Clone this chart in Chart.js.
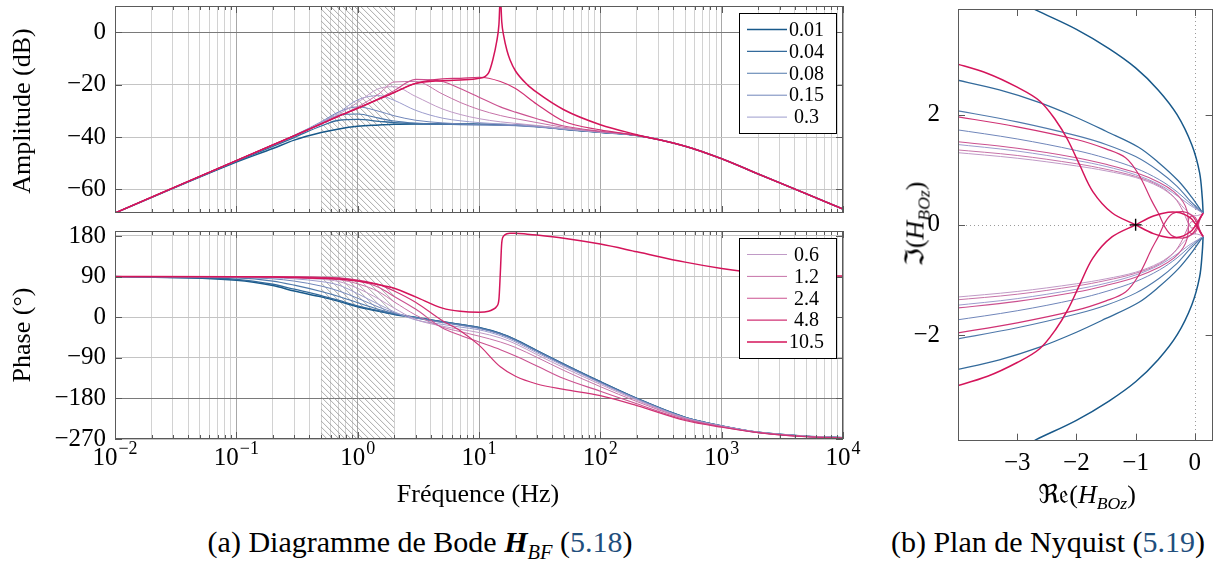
<!DOCTYPE html>
<html>
<head>
<meta charset="utf-8">
<script src="https://cdn.jsdelivr.net/npm/chart.js@4.4.0/dist/chart.umd.min.js"></script>
<style>
  html, body { margin: 0; padding: 0; background: #fff; overflow: hidden; }
  body { width: 1214px; height: 563px; position: relative; font-family: 'Liberation Serif', 'DejaVu Serif', serif; color: #000; }
  .box { position: absolute; }
  .lbl { position: absolute; font-size: 26px; white-space: nowrap; transform: translate(-50%, -50%); }
  .rot { transform: translate(-50%, -50%) rotate(-90deg); }
  .cap { position: absolute; font-size: 30px; white-space: nowrap; transform: translate(-50%, -50%); }
  .ref { color: #1f4f7d; }
  .sym { font-family: 'DejaVu Serif', 'DejaVu Sans', serif; }
  sub { font-size: 68%; vertical-align: -0.35em; line-height: 0; }
</style>
</head>
<body>
<div class="box" style="left:0;top:0;width:846px;height:216px"><canvas id="amp"></canvas></div>
<div class="box" style="left:0;top:225px;width:870px;height:255px"><canvas id="phase"></canvas></div>
<div class="box" style="left:880px;top:0;width:340px;height:480px"><canvas id="nyq"></canvas></div>

<div class="lbl rot" style="left:22px;top:111px">Amplitude (dB)</div>
<div class="lbl rot" style="left:22px;top:335px">Phase (°)</div>
<div class="lbl" style="left:478px;top:494px">Fréquence (Hz)</div>
<div class="lbl rot" style="left:915px;top:224px"><span class="sym">ℑ</span>(<i>H</i><sub><i>BOz</i></sub>)</div>
<div class="lbl" style="left:1087px;top:494px"><span class="sym">ℜ𝔢</span>(<i>H</i><sub><i>BOz</i></sub>)</div>
<div class="cap" style="left:420px;top:542px">(a) Diagramme de Bode <b><i>H</i></b><sub><i>BF</i></sub> (<span class="ref">5.18</span>)</div>
<div class="cap" style="left:1048px;top:542px">(b) Plan de Nyquist (<span class="ref">5.19</span>)</div>

<script>
// gains (legend)
const gains = ['0.01', '0.04', '0.08', '0.15', '0.3', '0.6', '1.2', '2.4', '4.8', '10.5'];
const colors = ['#18598a', '#336a9b', '#5079ab', '#7086ba', '#9c9ccd', '#c09ac6', '#c673a8', '#cb5290', '#d03274', '#d4145a'];
const widths = [1.5, 1.3, 1.1, 1, 1, 1, 1, 1.1, 1.2, 1.5];

// frequencies (Hz)
const freq = [0.01, 0.1, 0.2, 0.3, 0.5, 0.7, 1, 1.5, 2, 3, 5, 7, 10, 15, 20, 30, 50, 100, 200, 500, 1000, 2000, 5000, 10000];
const freqRes = [0.01, 0.1, 0.2, 0.3, 0.5, 0.7, 1, 1.5, 2, 3, 5, 7, 10, 12, 13, 14, 14.6, 15, 15.4, 16, 17, 18, 20, 25, 30, 50, 100, 200, 500, 1000, 2000, 5000, 10000];

// amplitude (dB)
const amp001 = [-69, -49.6, -44.4, -41.2, -38.3, -36.9, -35.9, -35.4, -35.1, -35, -35, -35, -35.1, -35.2, -35.4, -35.9, -37, -38.2, -39.4, -43.5, -48.3, -54.1, -61.7, -67.5];
const amp004 = [-69, -49.3, -43.6, -40.2, -35.8, -33.6, -33.3, -34, -34.5, -34.9, -35.1, -35.2, -35.2, -35.3, -35.5, -36, -37, -38.2, -39.4, -43.5, -48.3, -54.1, -61.7, -67.5];
const amp008 = [-69, -49.1, -43.2, -39.6, -34.6, -31.7, -31.2, -32.8, -33.9, -34.7, -35.1, -35.3, -35.4, -35.5, -35.6, -36.1, -37, -38.2, -39.4, -43.5, -48.3, -54.1, -61.7, -67.5];
const amp015 = [-69, -49, -43, -39.4, -34.2, -30.4, -28.5, -30.2, -31.9, -33.6, -34.6, -35, -35.3, -35.5, -35.7, -36.2, -37.1, -38.2, -39.4, -43.5, -48.3, -54.1, -61.7, -67.5];
const amp03 = [-69, -49, -43, -39.4, -34.3, -30.6, -25.8, -24.2, -26, -29.8, -32.8, -33.8, -34.5, -35, -35.3, -35.9, -36.9, -38.1, -39.4, -43.5, -48.3, -54.1, -61.7, -67.5];
const amp06 = [-69, -49, -43, -39.5, -34.6, -31.3, -26.8, -21.5, -20.8, -24.5, -29.3, -31.4, -33, -34.2, -34.8, -35.6, -36.8, -38.1, -39.3, -43.5, -48.3, -54.1, -61.7, -67.5];
const amp12 = [-69, -49, -43, -39.5, -35, -32, -28.5, -23.5, -19, -18.8, -23.6, -26.8, -29.5, -31.8, -33, -34.5, -36.3, -38, -39.3, -43.5, -48.3, -54.1, -61.7, -67.5];
const amp24 = [-69, -49, -43, -39.5, -35, -32, -29, -25.3, -22.3, -18, -18.8, -21.5, -24.8, -28.5, -30.5, -33, -35.8, -37.8, -39.3, -43.5, -48.3, -54.1, -61.7, -67.5];
const amp48 = [-69, -49, -43, -39.5, -35, -32, -29, -25.5, -23, -19.5, -17.8, -17.6, -17.2, -18.8, -21.5, -27.5, -34, -37.3, -39.4, -43.5, -48.3, -54.1, -61.7, -67.5];
const amp105 = [-69, -49, -43, -39.5, -35, -32, -29, -25.5, -23, -19.6, -18.5, -18.2, -17.6, -15.5, -10.5, -3.5, 3, 14, 4, -1.5, -7, -10.5, -14.8, -20, -23, -29.6, -35.3, -39.1, -43.5, -48.3, -54.1, -61.7, -67.5];

// phase (deg)
const ph001 = [90, 82, 70, 58, 45, 35, 23, 13, 6, -1, -10, -16, -23, -36, -50, -74, -104, -143, -180, -222, -241, -255, -264, -267];
const ph004 = [90, 84, 73, 62, 48, 37, 25, 14, 7, 0, -10, -16, -23, -36, -50, -74, -104, -143, -180, -222, -241, -255, -264, -267];
const ph008 = [90, 87, 80, 71, 57, 46, 32, 17, 8, -1, -11, -17, -24, -37, -51, -75, -105, -144, -180, -222, -241, -255, -264, -267];
const ph015 = [90, 88, 85, 80, 69, 58, 42, 22, 10, -2, -12, -18, -25, -38, -52, -76, -106, -145, -181, -223, -241, -255, -264, -267];
const ph03 = [90, 89, 87, 85, 79, 71, 52, 28, 12, -6, -16, -22, -28, -41, -55, -79, -108, -146, -182, -223, -241, -255, -264, -267];
const ph06 = [90, 89.5, 88.5, 87, 84, 79, 64, 40, 20, -5, -20, -27, -34, -46, -59, -83, -112, -149, -184, -224, -242, -255, -264, -267];
const ph12 = [90, 90, 89, 88.5, 86, 83, 74, 56, 34, 5, -22, -32, -42, -55, -67, -89, -118, -154, -187, -225, -242, -255, -264, -267];
const ph24 = [90, 90, 89.5, 89, 88, 86, 80, 66, 46, 18, -24, -40, -55, -72, -86, -108, -136, -164, -192, -227, -243, -256, -265, -268];
const ph48 = [90, 90, 90, 89.5, 88.5, 87, 82, 72, 58, 33, -8, -30, -62, -110, -131, -148, -160, -174, -196, -229, -244, -256, -265, -268];
const ph105 = [90, 89.8, 89, 88, 86.5, 84.5, 80, 72, 64, 45, 20, 13, 11, 13, 17, 24, 40, 100, 165, 180, 185, 186, 186, 184, 182, 175, 162, 145, 122, 108, 98, 93, 91];

// Nyquist, upper branch (the lower one is its mirror)
const re001 = [-2.85, -2.68, -2.0, -1.45, -1.0, -0.62, -0.3, -0.05, 0.08, 0.125, 0.14];
const im001 = [4.0, 3.9, 3.55, 3.2, 2.85, 2.45, 2.0, 1.45, 0.95, 0.5, 0.21];
const re004 = [-4.1, -3.3, -2.62, -2.0, -1.5, -0.95, -0.6, -0.28, -0.05, 0.08, 0.14];
const im004 = [2.65, 2.45, 2.22, 1.95, 1.7, 1.41, 1.12, 0.8, 0.5, 0.3, 0.21];
const re008 = [-4.1, -3, -2, -1.5, -1, -0.6, -0.3, -0.1, 0.05, 0.14];
const im008 = [2.09, 1.87, 1.62, 1.46, 1.24, 0.97, 0.7, 0.46, 0.3, 0.21];
const re015 = [-4.1, -3, -2, -1.5, -1, -0.6, -0.3, -0.1, 0.05, 0.14];
const im015 = [1.74, 1.56, 1.35, 1.21, 1.03, 0.82, 0.6, 0.41, 0.28, 0.21];
const re03 = [-4.1, -3, -2, -1.5, -1, -0.6, -0.3, -0.1, 0.05, 0.14];
const im03 = [1.47, 1.34, 1.17, 1.06, 0.91, 0.73, 0.53, 0.37, 0.27, 0.21];
const re06 = [-4.1, -3, -2, -1.5, -1, -0.6, -0.35, -0.18, -0.05, 0.05, 0.14];
const im06 = [1.32, 1.21, 1.07, 0.98, 0.86, 0.69, 0.5, 0.3, 0.18, 0.17, 0.21];
const re12 = [-4.1, -3, -2, -1.5, -1, -0.6, -0.35, -0.2, -0.12, -0.05, 0.04, 0.14];
const im12 = [1.37, 1.26, 1.11, 1.01, 0.88, 0.71, 0.5, 0.25, 0.05, -0.06, 0.02, 0.21];
const re24 = [-4.1, -3, -2, -1.5, -1, -0.6, -0.35, -0.2, -0.13, -0.11, -0.1, -0.03, 0.04, 0.08, 0.14];
const im24 = [1.52, 1.39, 1.22, 1.1, 0.95, 0.77, 0.6, 0.42, 0.25, 0.05, -0.12, -0.16, -0.08, 0.08, 0.21];
const re48 = [-4.1, -3, -2, -1.5, -1.17, -0.95, -0.73, -0.61, -0.5, -0.38, -0.2, -0.05, 0.03, 0.08, 0.14];
const im48 = [1.98, 1.78, 1.55, 1.38, 1.22, 0.92, 0.44, 0.2, -0.05, -0.2, -0.24, -0.17, -0.05, 0.1, 0.21];
const re105 = [-4.1, -3.5, -3.0, -2.62, -2.35, -2.15, -1.95, -1.72, -1.4, -1.0, -0.7, -0.45, -0.25, -0.08, 0.01, 0.06, 0.1, 0.14];
const im105 = [2.95, 2.75, 2.5, 2.25, 1.9, 1.55, 1.1, 0.6, 0.22, 0, -0.16, -0.23, -0.22, -0.13, -0.02, 0.07, 0.15, 0.21];
const critical = [{ x: -1, y: 0 }];

// axis ticks
const ampTicks = [-60, -40, -20, 0];
const phaseTicks = [-270, -180, -90, 0, 90, 180];
const decades = [-2, -1, 0, 1, 2, 3, 4];
const nyqXTicks = [-3, -2, -1, 0];
const nyqYTicks = [-2, 0, 2];
const band = [0.5, 2];

const ampAll = [amp001, amp004, amp008, amp015, amp03, amp06, amp12, amp24, amp48, amp105];
const phAll = [ph001, ph004, ph008, ph015, ph03, ph06, ph12, ph24, ph48, ph105];
const reAll = [re001, re004, re008, re015, re03, re06, re12, re24, re48, re105];
const imAll = [im001, im004, im008, im015, im03, im06, im12, im24, im48, im105];

Chart.defaults.font.family = "'Liberation Serif', 'DejaVu Serif', serif";
Chart.defaults.font.size = 25;
Chart.defaults.color = '#000';

const minus = v => (v < 0 ? '\u2212' + Math.abs(v) : String(v));
const isDecade = v => Math.abs(Math.log10(v) - Math.round(Math.log10(v))) < 1e-9;

// every 1..9 x 10^n tick of the log axis
const logTicks = [];
for (let d = decades[0]; d < decades[decades.length - 1]; d++) {
    for (let k = 1; k <= 9; k++) logTicks.push(+(k * Math.pow(10, d)).toPrecision(3));
}
logTicks.push(Math.pow(10, decades[decades.length - 1]));

function bodeSets(values) {
    return gains.map((g, i) => ({
        label: g,
        data: (i === 9 ? freqRes : freq).map((f, k) => ({ x: f, y: values[i][k] })),
        borderColor: colors[i],
        borderWidth: widths[i],
        pointRadius: 0,
        fill: false,
        cubicInterpolationMode: 'monotone',
        order: 9 - i
    }));
}

function nyqSets() {
    return gains.map((g, i) => {
        const re = reAll[i], im = imAll[i];
        const up = re.map((r, k) => ({ x: r, y: im[k] }));
        const down = re.map((r, k) => ({ x: r, y: -im[k] }));
        return {
            label: g,
            data: up.concat([{ x: re[re.length - 1], y: null }], down),
            borderColor: colors[i],
            borderWidth: widths[i],
            pointRadius: 0,
            showLine: true,
            tension: 0.35,
            order: 9 - i
        };
    });
}

// hatched band 0.5 - 2 Hz
const hatch = {
    id: 'hatch',
    beforeDatasetsDraw(chart) {
        const { ctx, chartArea: a, scales: { x } } = chart;
        const x0 = x.getPixelForValue(band[0]), x1 = x.getPixelForValue(band[1]);
        const h = a.bottom - a.top;
        ctx.save();
        ctx.beginPath();
        ctx.rect(x0, a.top, x1 - x0, h);
        ctx.clip();
        ctx.beginPath();
        ctx.strokeStyle = '#8c8c8c';
        ctx.lineWidth = 0.75;
        for (let s = x0 - h; s < x1 + 6; s += 6) {
            ctx.moveTo(s, a.top);
            ctx.lineTo(s + h, a.bottom);
        }
        ctx.stroke();
        ctx.restore();
    }
};

// frame + inward ticks
const frame = {
    id: 'frame',
    afterDatasetsDraw(chart, args, opts) {
        const { ctx, chartArea: a, scales: { x, y } } = chart;
        ctx.save();
        ctx.strokeStyle = '#5a5a5a';
        ctx.lineWidth = 1;
        ctx.beginPath();
        x.ticks.forEach(t => {
            const px = Math.round(x.getPixelForValue(t.value)) + 0.5;
            const len = opts.logX && !isDecade(t.value) ? 4 : 7;
            ctx.moveTo(px, a.top); ctx.lineTo(px, a.top + len);
            ctx.moveTo(px, a.bottom); ctx.lineTo(px, a.bottom - len);
        });
        y.ticks.forEach(t => {
            const py = Math.round(y.getPixelForValue(t.value)) + 0.5;
            ctx.moveTo(a.left, py); ctx.lineTo(a.left + 7, py);
            ctx.moveTo(a.right, py); ctx.lineTo(a.right - 7, py);
        });
        ctx.stroke();
        ctx.strokeRect(Math.round(a.left) + 0.5, Math.round(a.top) + 0.5,
            Math.round(a.right - a.left) - 1, Math.round(a.bottom - a.top) - 1);
        ctx.restore();
    }
};

// boxed legend inside the plot
const boxLegend = {
    id: 'boxLegend',
    afterDatasetsDraw(chart, args, opts) {
        if (!opts.items) return;
        const { ctx } = chart;
        const b = opts.box;
        ctx.save();
        ctx.fillStyle = '#fff';
        ctx.fillRect(b.x, b.y, b.w, b.h);
        ctx.strokeStyle = '#000';
        ctx.lineWidth = 1;
        ctx.strokeRect(b.x + 0.5, b.y + 0.5, b.w, b.h);
        ctx.font = "20px 'Liberation Serif', serif";
        ctx.textAlign = 'center';
        ctx.textBaseline = 'middle';
        opts.items.forEach((i, k) => {
            const yy = b.y + 16.5 + k * 21.9;
            ctx.beginPath();
            ctx.strokeStyle = colors[i];
            ctx.lineWidth = widths[i];
            ctx.moveTo(b.x + 8, yy);
            ctx.lineTo(b.x + 48, yy);
            ctx.stroke();
            ctx.fillStyle = '#000';
            ctx.fillText(gains[i], b.x + 67.5, yy + 1);
        });
        ctx.restore();
    }
};

// 10^n labels under the phase plot
const decadeLabels = {
    id: 'decadeLabels',
    afterDraw(chart) {
        const { ctx, chartArea: a, scales: { x } } = chart;
        ctx.save();
        ctx.fillStyle = '#000';
        ctx.textBaseline = 'alphabetic';
        ctx.textAlign = 'left';
        decades.forEach(d => {
            const px = x.getPixelForValue(Math.pow(10, d));
            const e = minus(d);
            ctx.font = "25px 'Liberation Serif', serif";
            const w1 = ctx.measureText('10').width;
            ctx.font = "18px 'Liberation Serif', serif";
            const w2 = ctx.measureText(e).width;
            const x0 = px - (w1 + w2 + 1) / 2;
            ctx.font = "25px 'Liberation Serif', serif";
            ctx.fillText('10', x0, a.bottom + 26);
            ctx.font = "18px 'Liberation Serif', serif";
            ctx.fillText(e, x0 + w1 + 1, a.bottom + 15);
        });
        ctx.restore();
    }
};

// dotted axes through 0 in the Nyquist plane
const zeroLines = {
    id: 'zeroLines',
    beforeDatasetsDraw(chart) {
        const { ctx, chartArea: a, scales: { x, y } } = chart;
        const px = Math.round(x.getPixelForValue(0)) + 0.5;
        const py = Math.round(y.getPixelForValue(0)) + 0.5;
        ctx.save();
        ctx.strokeStyle = '#9a9a9a';
        ctx.lineWidth = 1;
        ctx.setLineDash([1, 3]);
        ctx.beginPath();
        ctx.moveTo(px, a.top); ctx.lineTo(px, a.bottom);
        ctx.moveTo(a.left, py); ctx.lineTo(a.right, py);
        ctx.stroke();
        ctx.restore();
    }
};

function fixBox(w, h) {
    return s => {
        if (w !== null) s.width = w;
        if (h !== null) s.height = h;
        s.paddingTop = 0; s.paddingBottom = 0; s.paddingLeft = 0; s.paddingRight = 0;
    };
}

function bodeOptions(yMin, yMax, yTicks, darkTick, xHeight, padRight, legendItems) {
    return {
        responsive: true,
        maintainAspectRatio: false,
        animation: false,
        layout: { padding: { top: 6, right: padRight, bottom: 0, left: 0 } },
        scales: {
            x: {
                type: 'logarithmic',
                min: 0.01,
                max: 10000,
                afterBuildTicks: s => { s.ticks = logTicks.map(v => ({ value: v })); },
                afterFit: fixBox(null, xHeight),
                ticks: { display: false },
                border: { display: false },
                grid: {
                    drawTicks: false,
                    color: c => (c.tick && isDecade(c.tick.value) ? '#a8a8a8' : '#d2d2d2'),
                    lineWidth: 1
                }
            },
            y: {
                min: yMin,
                max: yMax,
                afterBuildTicks: s => { s.ticks = yTicks.map(v => ({ value: v })); },
                afterFit: fixBox(115, null),
                border: { display: false },
                ticks: { callback: v => minus(v), padding: 9 },
                grid: {
                    drawTicks: false,
                    color: c => (c.tick && c.tick.value === darkTick ? '#7a7a7a' : '#c4c4c4'),
                    lineWidth: 1
                }
            }
        },
        plugins: {
            legend: { display: false },
            tooltip: { enabled: false },
            frame: { logX: true },
            boxLegend: { items: legendItems, box: { x: 739, y: 13, w: 97, h: 120 } }
        }
    };
}

new Chart(document.getElementById('amp'), {
    type: 'line',
    data: { datasets: bodeSets(ampAll) },
    options: bodeOptions(-69, 10, ampTicks, 0, 3, 3, [0, 1, 2, 3, 4]),
    plugins: [hatch, frame, boxLegend]
});

new Chart(document.getElementById('phase'), {
    type: 'line',
    data: { datasets: bodeSets(phAll) },
    options: bodeOptions(-270, 191, phaseTicks, -180, 41, 27, [5, 6, 7, 8, 9]),
    plugins: [hatch, frame, boxLegend, decadeLabels]
});

const nyqData = nyqSets();
nyqData.unshift({
    label: 'critique',
    data: critical,
    pointStyle: 'cross',
    pointRadius: 6,
    borderColor: '#000',
    borderWidth: 1.4,
    showLine: false,
    order: -1
});

new Chart(document.getElementById('nyq'), {
    type: 'scatter',
    data: { datasets: nyqData },
    options: {
        responsive: true,
        maintainAspectRatio: false,
        animation: false,
        layout: { padding: { top: 9, right: 5.4, bottom: 0, left: 0 } },
        scales: {
            x: {
                type: 'linear',
                min: -4,
                max: 0.3,
                afterBuildTicks: s => { s.ticks = nyqXTicks.map(v => ({ value: v })); },
                afterFit: fixBox(null, 39.3),
                border: { display: false },
                grid: { display: false },
                ticks: { callback: v => minus(v), padding: 0, maxRotation: 0 }
            },
            y: {
                min: -3.92,
                max: 3.92,
                afterBuildTicks: s => { s.ticks = nyqYTicks.map(v => ({ value: v })); },
                afterFit: fixBox(78, null),
                border: { display: false },
                grid: { display: false },
                ticks: { callback: v => minus(v), padding: 10 }
            }
        },
        plugins: {
            legend: { display: false },
            tooltip: { enabled: false },
            frame: { logX: false },
            boxLegend: {}
        }
    },
    plugins: [zeroLines, frame]
});
</script>
</body>
</html>
